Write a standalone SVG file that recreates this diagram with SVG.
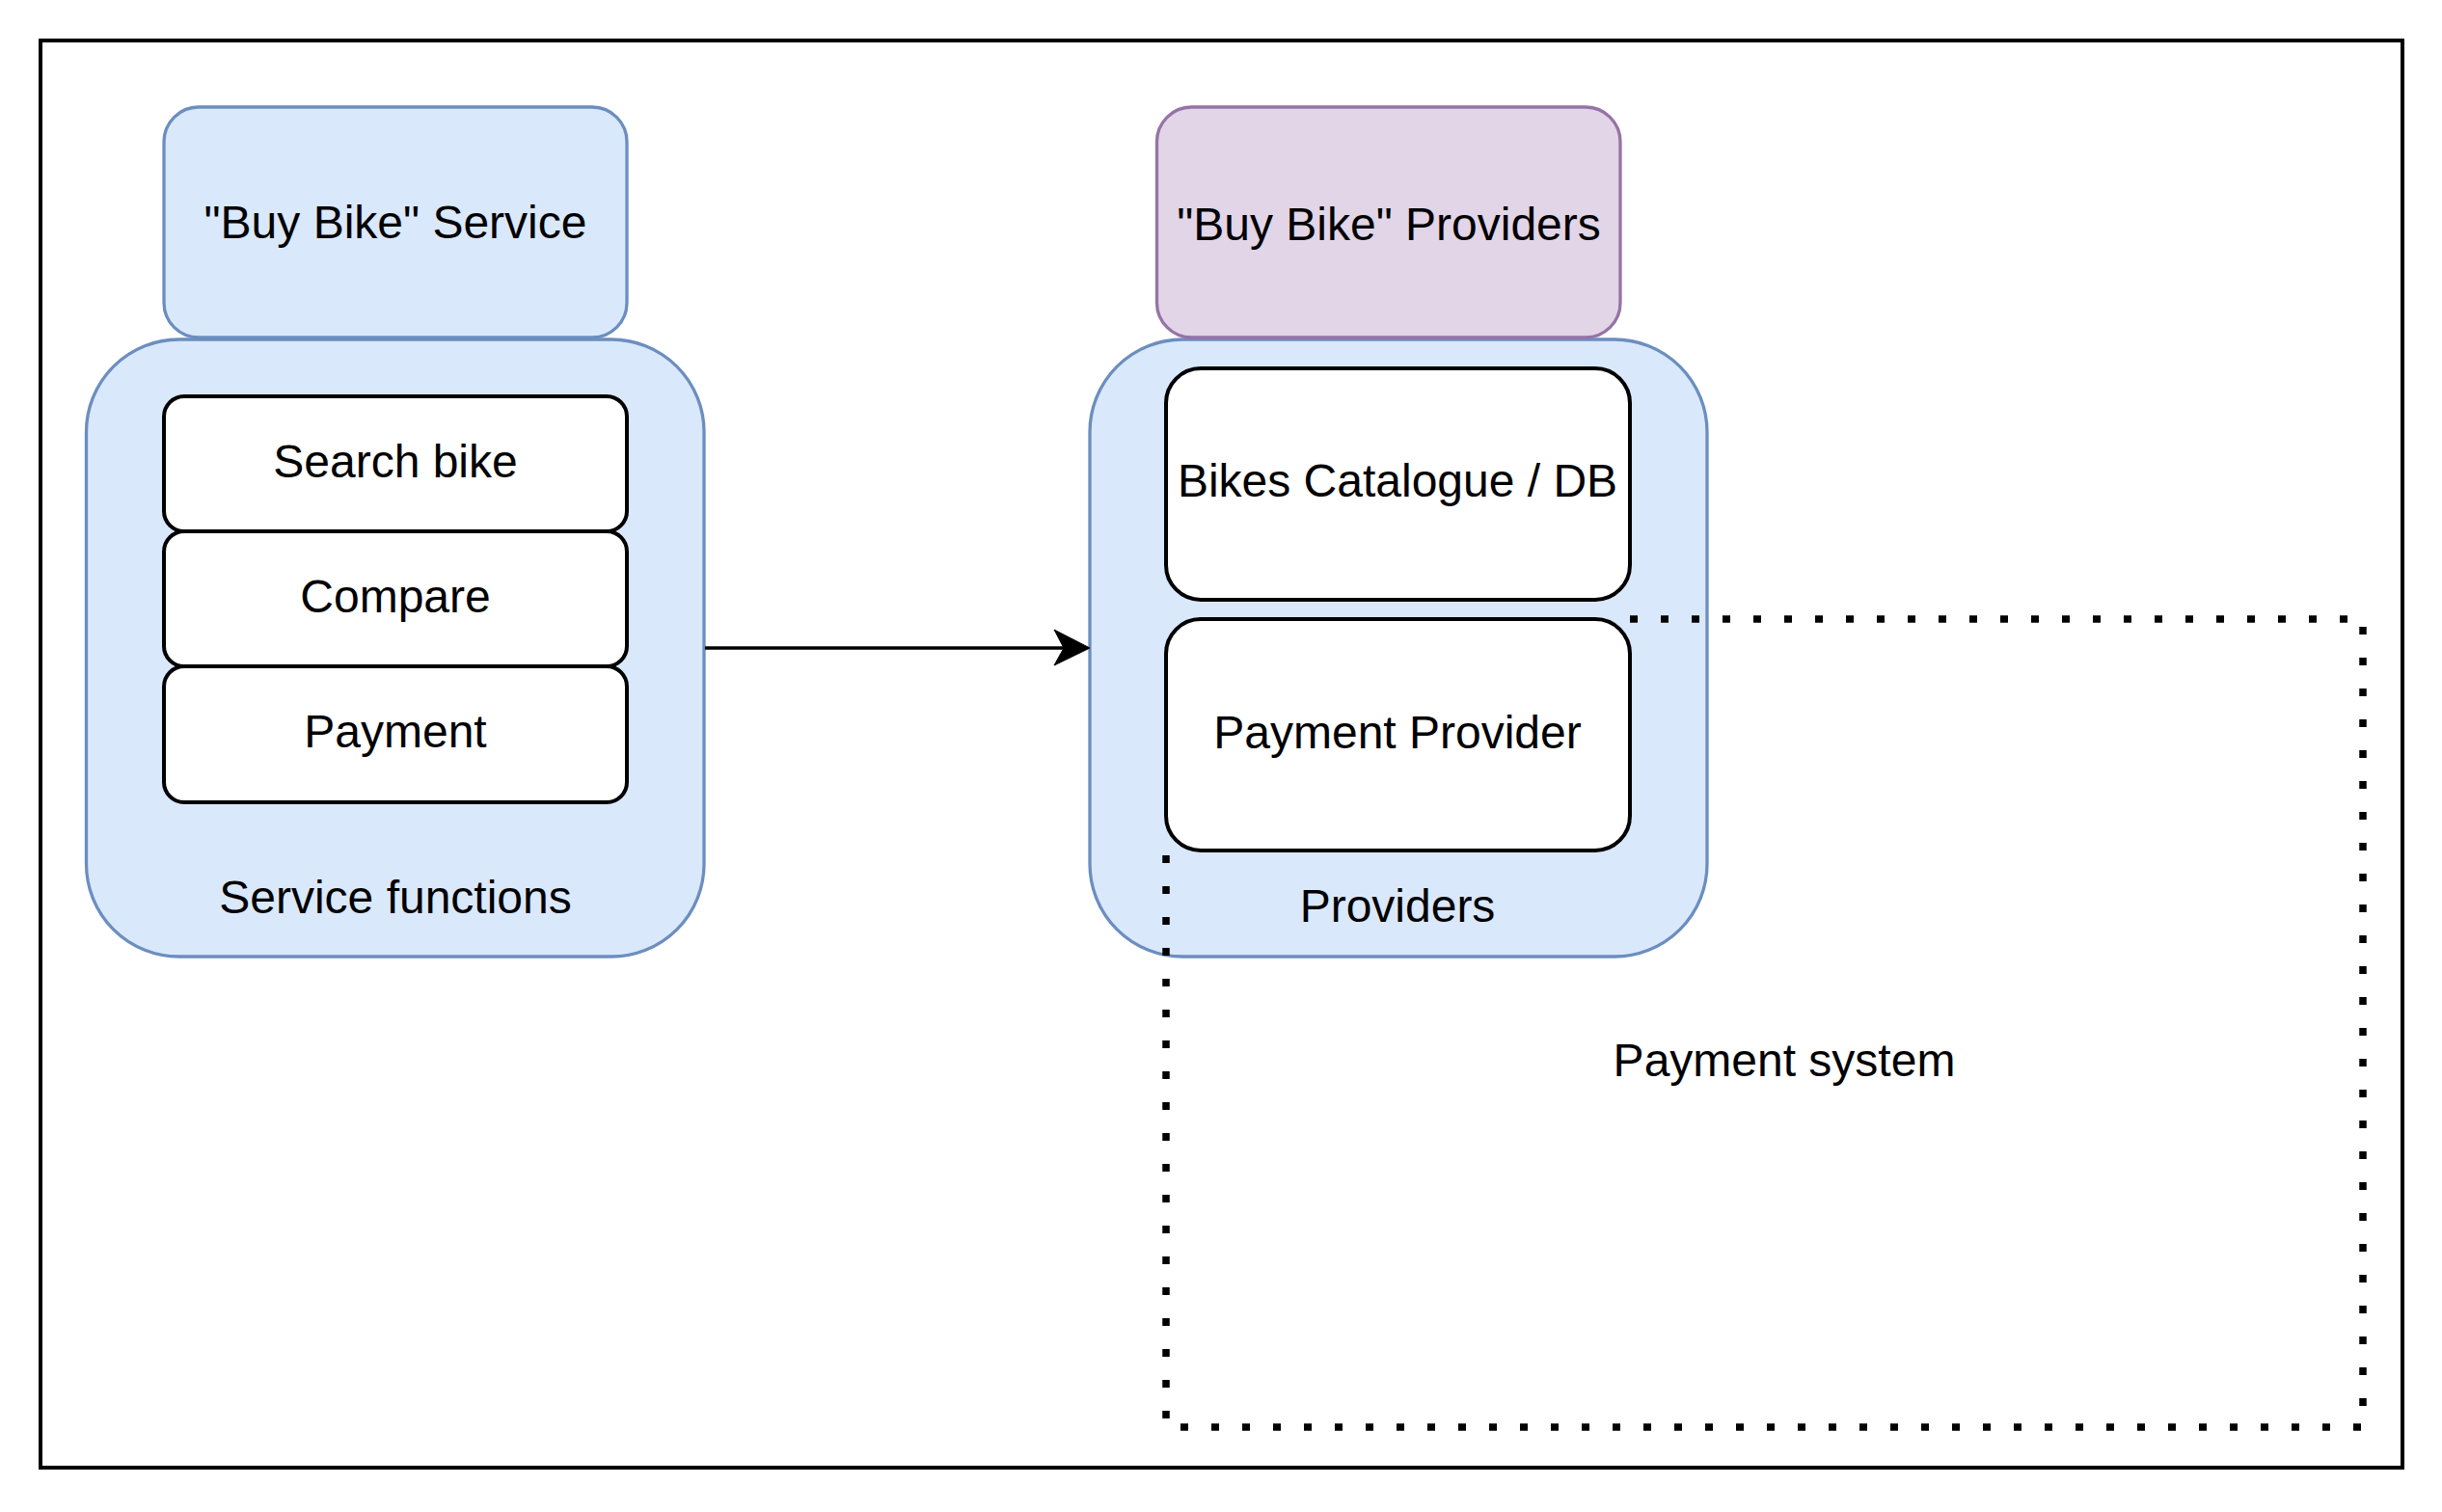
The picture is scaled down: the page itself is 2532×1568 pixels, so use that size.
<svg xmlns="http://www.w3.org/2000/svg" width="2532" height="1568" viewBox="0 0 2532 1568">
<style>
text{font-family:"Liberation Sans",Helvetica,Arial,sans-serif;font-size:48px;fill:#000;text-anchor:middle}
.blue{fill:#dae8fc;stroke:#6c8ebf;stroke-width:3.3}
.purple{fill:#e1d5e7;stroke:#9673a6;stroke-width:3.3}
.white{fill:#fff;stroke:#000;stroke-width:4}
.dotted{fill:none;stroke:#000;stroke-width:7.5;stroke-dasharray:8 24}
</style>
<rect width="2532" height="1568" fill="#fff"/>
<g id="frame"><rect x="42" y="42" width="2449" height="1480" fill="none" stroke="#000" stroke-width="4"/></g>
<g id="service-functions">
<rect class="blue" x="89.5" y="352" width="640.5" height="640" rx="96" ry="96"/>
<text x="410" y="947">Service functions</text>
</g>
<g id="buy-bike-service">
<rect class="blue" x="170" y="111" width="480" height="239" rx="36" ry="36"/>
<text x="410" y="247">"Buy Bike" Service</text>
</g>
<g id="search-bike">
<rect class="white" x="170" y="411" width="480" height="140" rx="21" ry="21"/>
<text x="410" y="495">Search bike</text>
</g>
<g id="compare">
<rect class="white" x="170" y="551" width="480" height="140" rx="21" ry="21"/>
<text x="410" y="635">Compare</text>
</g>
<g id="payment">
<rect class="white" x="170" y="691" width="480" height="141" rx="21" ry="21"/>
<text x="410" y="775">Payment</text>
</g>
<g id="providers">
<rect class="blue" x="1130" y="352" width="640" height="640" rx="96" ry="96"/>
<text x="1449" y="956">Providers</text>
</g>
<g id="buy-bike-providers">
<rect class="purple" x="1199.5" y="111" width="480.5" height="239" rx="36" ry="36"/>
<text x="1440" y="249">"Buy Bike" Providers</text>
</g>
<g id="bikes-catalogue">
<rect class="white" x="1209" y="382" width="481" height="240" rx="36" ry="36"/>
<text x="1449" y="515">Bikes Catalogue / DB</text>
</g>
<g id="payment-system">
<path class="dotted" d="M1690 642 H2450 V1480 H1209 V886"/>
<text x="1850" y="1116">Payment system</text>
</g>
<g id="payment-provider">
<rect class="white" x="1209" y="642" width="481" height="240" rx="36" ry="36"/>
<text x="1449" y="776">Payment Provider</text>
</g>
<g id="connectors">
<line x1="731" y1="672" x2="1104" y2="672" stroke="#000" stroke-width="3.3"/>
<polygon points="1130,672 1093,653 1103,672 1093,690" fill="#000" stroke="#000" stroke-width="1"/>
</g>
</svg>
